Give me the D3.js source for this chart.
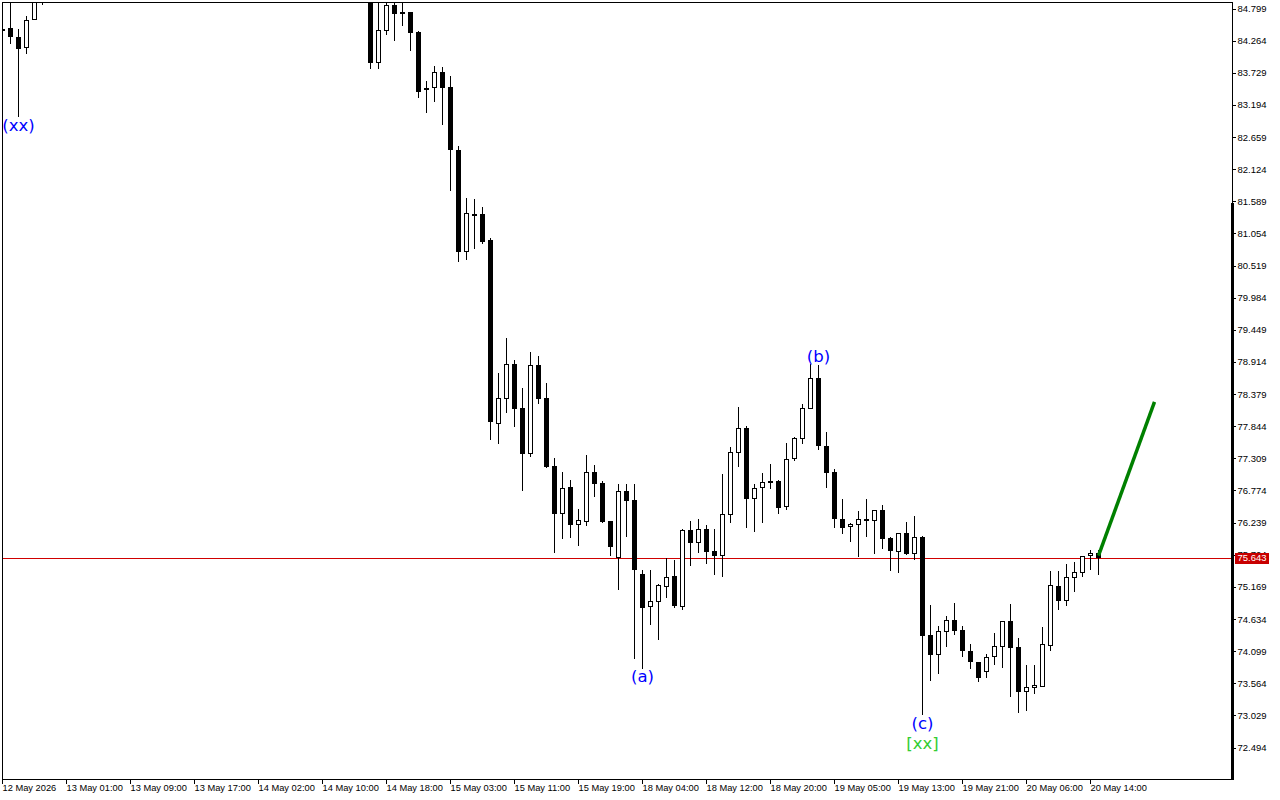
<!DOCTYPE html>
<html>
<head>
<meta charset="utf-8">
<style>
html,body{margin:0;padding:0;background:#fff;overflow:hidden}
svg{display:block}
text{font-family:"Liberation Sans",Arial,sans-serif}
</style>
<script src="https://cdn.jsdelivr.net/npm/d3@7/dist/d3.min.js"></script>
</head>
<body>
<svg id="chart" width="1280" height="800"></svg>
<script>
// Bar slots: bars 6..45 sit above the visible price range and are not drawn.
const barSlots = d3.range(0,6).concat(d3.range(46,138));

const opens = [84.416,84.466,84.316,84.133,84.599,85.2,
85.2,83.883,84.416,84.849,84.732,84.732,84.399,83.433,83.467,83.733,83.483,82.434,80.736,81.369,81.369,80.936,77.872,78.288,78.871,78.138,77.372,78.854,78.305,77.173,76.373,76.823,76.190,76.240,77.073,76.890,76.257,75.641,76.756,76.606,75.374,74.825,74.908,75.158,75.341,74.825,76.107,75.890,76.124,75.757,75.674,76.357,77.389,77.805,76.623,76.806,76.923,76.923,76.490,77.289,77.622,78.122,78.638,77.506,77.073,76.290,76.157,76.190,76.290,76.257,76.440,75.974,75.741,76.057,75.707,75.990,74.359,74.026,74.408,74.608,74.442,74.092,73.909,73.743,73.992,74.159,74.592,74.159,73.409,73.476,73.493,74.175,75.174,74.925,75.308,75.391,75.674,75.724];
const highs = [84.449,85.0,84.449,84.666,85.2,85.4,
85.4,85.0,85.0,85.0,85.0,84.732,84.416,83.583,83.833,83.816,83.667,82.501,81.635,81.618,81.485,80.969,78.721,79.304,78.938,78.471,79.071,79.004,78.555,77.306,77.073,76.939,76.457,77.356,77.189,76.923,76.257,76.873,76.873,76.873,75.441,75.441,75.208,75.641,75.607,76.124,76.257,76.290,76.190,76.124,77.040,77.489,78.155,77.839,76.873,77.056,77.206,76.939,77.556,77.655,78.205,78.871,78.854,77.739,77.123,76.623,76.224,76.423,76.623,76.440,76.523,75.990,76.057,76.240,76.340,76.007,74.858,74.508,74.675,74.891,74.508,74.209,73.909,74.042,74.392,74.592,74.875,74.309,73.859,73.859,74.492,75.424,75.424,75.541,75.574,75.674,75.774,75.774];
const lows = [84.399,84.199,82.984,84.033,84.599,84.849,
83.783,83.783,84.349,84.249,84.499,84.083,83.300,83.050,83.234,82.851,81.752,80.569,80.603,80.786,80.869,77.606,77.539,78.055,77.822,76.756,77.322,78.205,77.139,75.724,75.957,75.974,75.841,76.174,76.656,76.224,75.674,75.108,75.990,73.959,73.793,74.525,74.275,74.974,74.808,74.775,75.508,75.724,75.541,75.358,75.324,76.224,77.156,76.140,76.074,76.224,76.790,76.373,76.440,77.256,77.539,78.122,77.439,76.806,76.140,76.040,75.907,75.657,75.990,75.707,75.791,75.424,75.391,75.691,75.607,73.026,73.593,73.709,74.159,74.359,73.992,73.793,73.576,73.643,73.859,73.809,73.326,73.060,73.093,73.376,73.493,74.092,74.775,74.841,75.075,75.324,75.441,75.358];
const closes = [84.449,84.316,84.116,84.599,85.1,85.5,
83.883,84.432,84.849,84.699,84.699,84.383,83.400,83.467,83.733,83.467,82.434,80.736,81.385,81.352,80.902,77.905,78.305,78.871,78.122,77.372,78.854,78.288,77.156,76.373,76.806,76.190,76.274,77.073,76.873,76.240,75.824,76.756,76.590,75.441,74.808,74.925,75.191,75.324,74.841,76.107,75.890,76.124,75.741,75.674,76.373,77.406,77.805,76.623,76.806,76.906,76.890,76.473,77.289,77.639,78.138,78.638,77.506,77.056,76.290,76.140,76.207,76.290,76.257,76.440,75.957,75.757,76.057,75.707,75.990,74.342,74.026,74.425,74.608,74.425,74.092,73.909,73.643,73.992,74.175,74.592,74.142,73.409,73.493,73.526,74.209,75.191,74.925,75.324,75.408,75.674,75.724,75.643];

const priceTicks = [84.799,84.264,83.729,83.194,82.659,82.124,81.589,81.054,80.519,79.984,79.449,78.914,78.379,77.844,77.309,76.774,76.239,75.704,75.169,74.634,74.099,73.564,73.029,72.494];
const timeTickSlots = d3.range(0,144,8);
const timeLabels = ["12 May 2026","13 May 01:00","13 May 09:00","13 May 17:00","14 May 02:00","14 May 10:00","14 May 18:00","15 May 03:00","15 May 11:00","15 May 19:00","18 May 04:00","18 May 12:00","18 May 20:00","19 May 05:00","19 May 13:00","19 May 21:00","20 May 06:00","20 May 14:00"];

const currentPrice = 75.643;
const axisBarTopPrice = 81.546;

const waveSlots = [2,80,102,115,115];
const wavePrices = [82.85,73.66,79.0,72.89,72.56];
const waveNames = ["(xx)","(a)","(b)","(c)","[xx]"];
const waveColors = ["#0000ff","#0000ff","#0000ff","#0000ff","#32cd32"];

const forecastSlots = [137,144];
const forecastPrices = [75.68,78.24];

const x = d3.scaleLinear().domain([0,144]).range([2.5,1154.5]);
const y = d3.scaleLinear().domain([84.799,72.494]).range([8,747]);

const L=2, T=2, R=1232, B=779;
const svg = d3.select("#chart");
const defs = svg.append("defs");
defs.append("clipPath").attr("id","plot").append("rect").attr("x",L).attr("y",T).attr("width",R-L).attr("height",B-T);

// current price line sits under the candles
svg.append("line").attr("x1",L).attr("x2",R).attr("y1",Math.round(y(currentPrice))+.5).attr("y2",Math.round(y(currentPrice))+.5)
  .attr("stroke","#d00000").attr("stroke-width",1).attr("shape-rendering","crispEdges");

const bars = barSlots.map((s,i)=>({s,o:opens[i],h:highs[i],l:lows[i],c:closes[i]}));
const g = svg.append("g").attr("clip-path","url(#plot)").attr("shape-rendering","crispEdges");
const bar = g.selectAll("g").data(bars).join("g");
bar.append("rect")
  .attr("x",d=>x(d.s)-.5).attr("width",1)
  .attr("y",d=>Math.round(y(d.h)))
  .attr("height",d=>Math.max(1,Math.round(y(d.l))-Math.round(y(d.h))))
  .attr("fill","#000");
bar.append("rect")
  .attr("x",d=>x(d.s)-2).attr("width",4)
  .attr("y",d=>Math.round(y(Math.max(d.o,d.c)))+.5)
  .attr("height",d=>Math.max(1,Math.round(y(Math.min(d.o,d.c)))-Math.round(y(Math.max(d.o,d.c)))-1))
  .attr("fill",d=>d.c>=d.o?"#fff":"#000")
  .attr("stroke","#000").attr("stroke-width",1);

// forecast line
svg.append("path")
  .attr("d",d3.line().x(d=>x(d[0])).y(d=>y(d[1]))(forecastSlots.map((s,i)=>[s,forecastPrices[i]])))
  .attr("fill","none").attr("stroke","#008000").attr("stroke-width",3.5);

// wave labels
svg.append("g").selectAll("text").data(waveNames).join("text")
  .attr("x",(d,i)=>x(waveSlots[i])).attr("y",(d,i)=>y(wavePrices[i]))
  .attr("text-anchor","middle").attr("dominant-baseline","central")
  .attr("fill",(d,i)=>waveColors[i])
  .attr("font-size",16.5).style("font-family",'"DejaVu Sans"').text(d=>d);

// frame
svg.append("g").attr("shape-rendering","crispEdges").selectAll("rect")
  .data([[L,T,R-L+1,1],[L,T,1,B-T+1],[L,B,R-L+1,1],[R,T,1,B-T+1]]).join("rect")
  .attr("x",d=>d[0]).attr("y",d=>d[1]).attr("width",d=>d[2]).attr("height",d=>d[3]).attr("fill","#000");
svg.append("rect").attr("x",1231).attr("width",3).attr("y",Math.round(y(axisBarTopPrice))).attr("height",B-Math.round(y(axisBarTopPrice))+1).attr("fill","#000").attr("shape-rendering","crispEdges");

// axes
const yAxis = svg.append("g").attr("transform",`translate(${R+.5},.5)`)
  .call(d3.axisRight(y).tickValues(priceTicks).tickFormat(d3.format(".3f")).tickSize(3).tickPadding(2));
yAxis.select(".domain").remove();
yAxis.selectAll("line").attr("shape-rendering","crispEdges").attr("stroke","#000");
yAxis.selectAll("text").attr("font-size",9.5).attr("fill","#000").style("font-family",'"Liberation Sans"');

const xAxis = svg.append("g").attr("transform",`translate(-.5,${B+.5})`)
  .call(d3.axisBottom(x).tickValues(timeTickSlots).tickFormat((d,i)=>timeLabels[i]).tickSize(4).tickPadding(1));
xAxis.select(".domain").remove();
xAxis.selectAll("line").attr("shape-rendering","crispEdges").attr("stroke","#000");
xAxis.selectAll("text").attr("text-anchor","start").attr("x",0).attr("font-size",9.3).attr("fill","#000").style("font-family",'"Liberation Sans"');

// current price tag
const tagY = Math.round(y(currentPrice));
svg.append("rect").attr("x",1235).attr("y",tagY-5).attr("width",34).attr("height",11).attr("fill","#c80000").attr("shape-rendering","crispEdges");
svg.append("text").attr("x",1252).attr("y",tagY).attr("dy","0.36em").attr("text-anchor","middle").attr("font-size",9.5).attr("fill","#fff").text(d3.format(".3f")(currentPrice));
</script>
</body>
</html>
